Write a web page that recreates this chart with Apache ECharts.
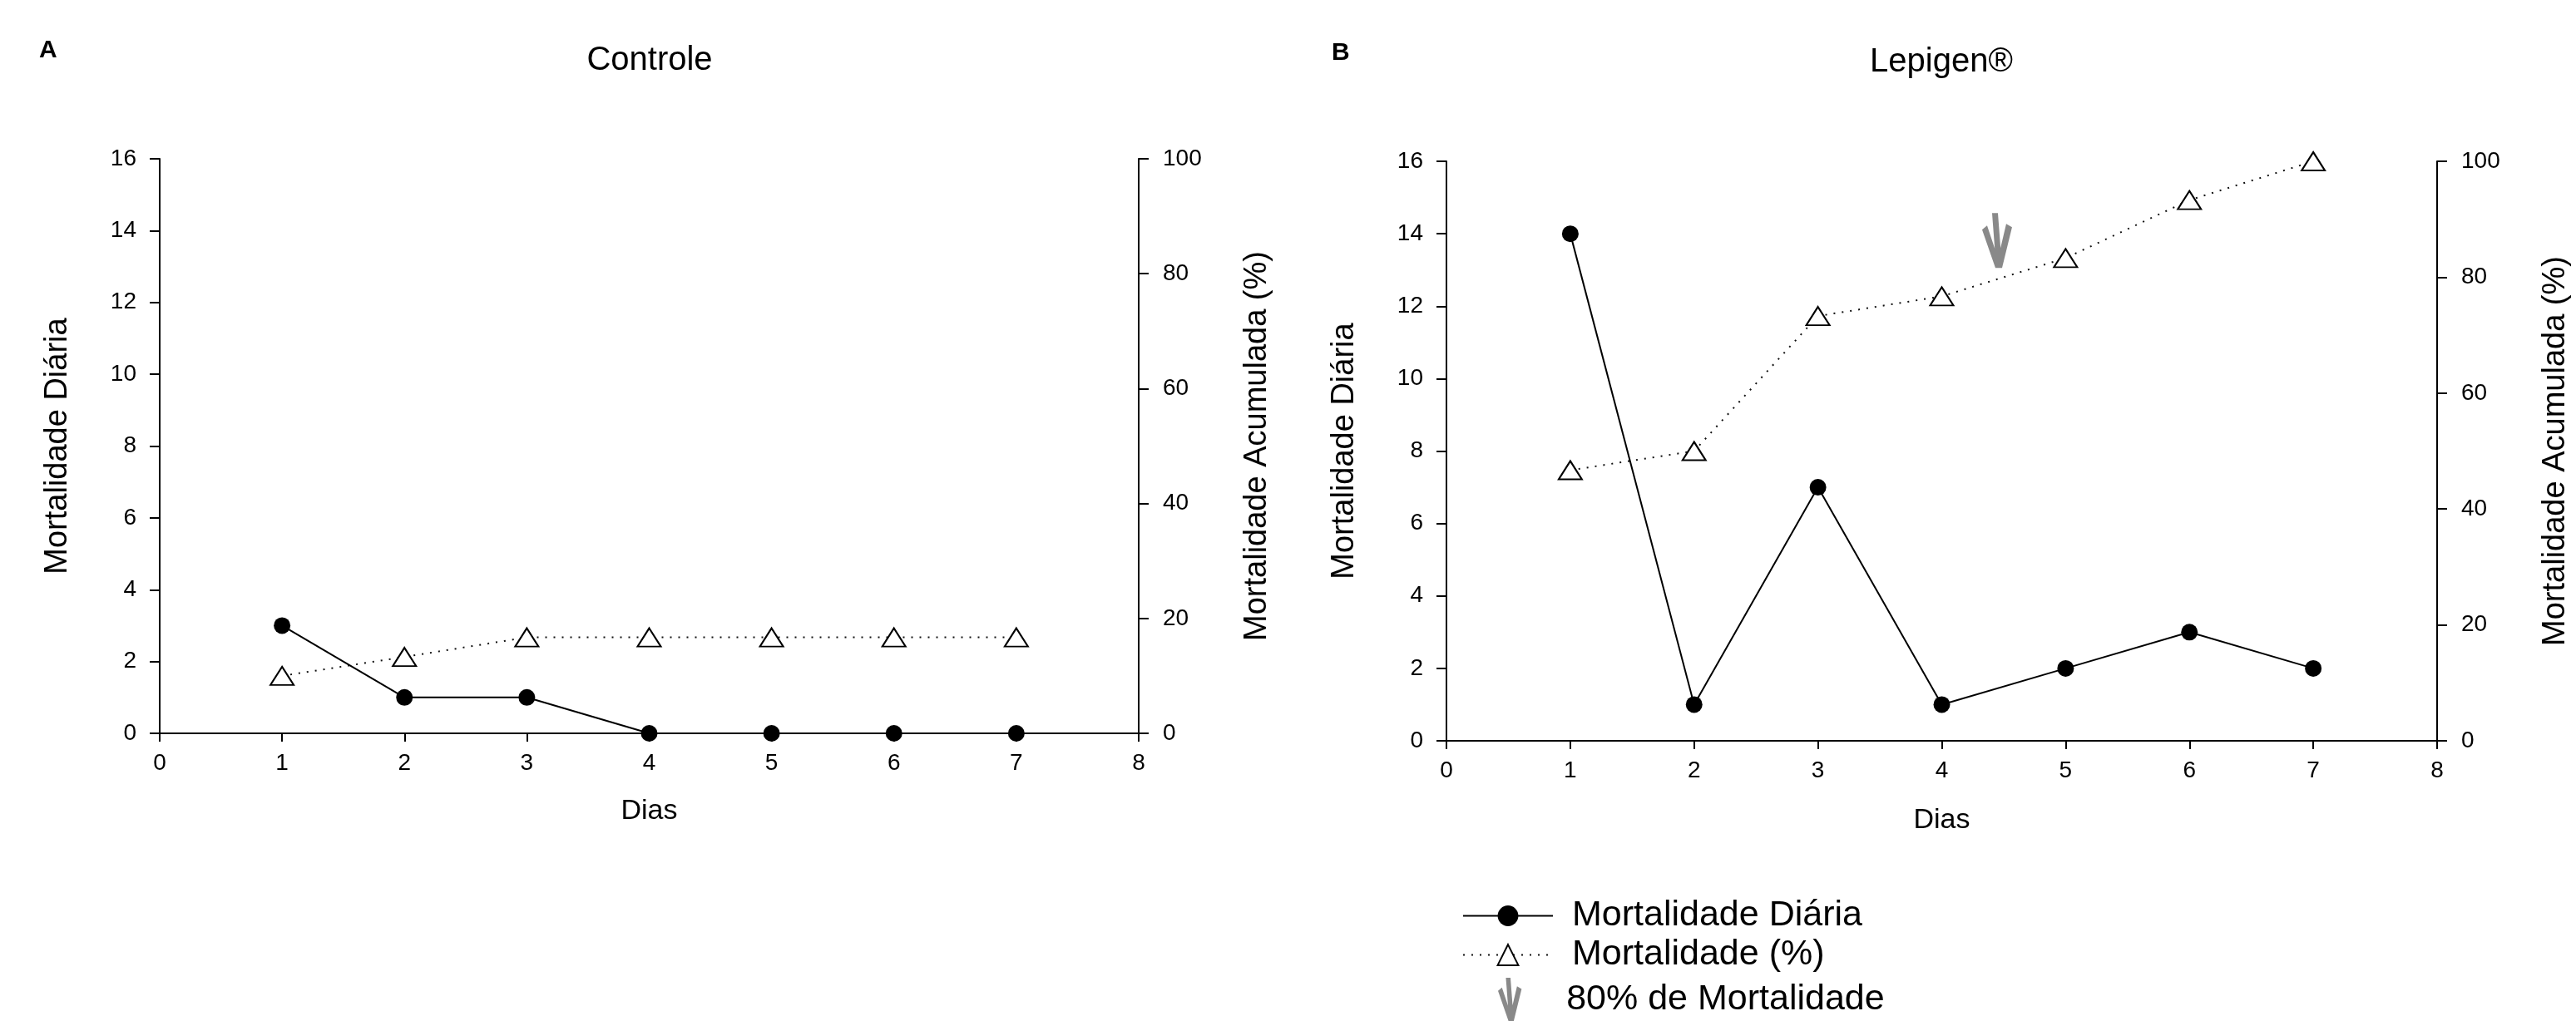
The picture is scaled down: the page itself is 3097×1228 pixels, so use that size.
<!DOCTYPE html>
<html>
<head>
<meta charset="utf-8">
<script src="https://cdn.jsdelivr.net/npm/echarts@6/dist/echarts.min.js"></script>
<style>
  html, body { margin: 0; padding: 0; background: #fff; }
  #chart { width: 3097px; height: 1228px; }
</style>
</head>
<body>
<div id="chart"></div>
<script>
// dados
const dias = [1, 2, 3, 4, 5, 6, 7];
const controleDiaria = [3, 1, 1, 0, 0, 0, 0];
const controlePct = [10, 13.3, 16.7, 16.7, 16.7, 16.7, 16.7];
const lepigenDiaria = [14, 1, 7, 1, 2, 3, 2];
const lepigenPct = [46.7, 50, 73.3, 76.7, 83.3, 93.3, 100];
const marcador80 = [[4.46, 81.6]];

const fonte = "'Liberation Sans', Arial, sans-serif";
const seta = "path://M12 0 L19 0 L24 66 L17 66 Z M0 20 L6 15 L23 66 L16 66 Z M29 13 L36 17 L24 66 L17 64 Z";

let mcharts = echarts.init(document.getElementById("chart"));

function pares(vals) {
  return dias.map((d, i) => [d, vals[i]]);
}

function eixoX(idx, gap) {
  return {
    type: "value", gridIndex: idx, min: 0, max: 8, interval: 1,
    name: "Dias", nameLocation: "middle", nameGap: gap,
    nameTextStyle: { fontSize: 34, color: "#000", fontFamily: fonte },
    axisLine: { lineStyle: { color: "#000", width: 2 } },
    axisTick: { length: 10, lineStyle: { color: "#000", width: 2 } },
    axisLabel: { fontSize: 28, color: "#000", margin: 22, fontFamily: fonte },
    splitLine: { show: false }
  };
}

function eixoY(idx, pos, max, interval, nome, gap, margin) {
  return {
    type: "value", gridIndex: idx, position: pos, min: 0, max: max, interval: interval,
    name: nome, nameLocation: "middle", nameGap: gap,
    nameTextStyle: { fontSize: 38, color: "#000", fontFamily: fonte },
    axisLine: { show: true, lineStyle: { color: "#000", width: 2 } },
    axisTick: { show: true, length: 12, lineStyle: { color: "#000", width: 2 } },
    axisLabel: { fontSize: 28, color: "#000", margin: margin, fontFamily: fonte },
    splitLine: { show: false }
  };
}

function serieDiaria(idx, vals) {
  return {
    name: "Mortalidade Diária", type: "line", xAxisIndex: idx, yAxisIndex: idx * 2,
    data: pares(vals), symbol: "circle", symbolSize: 20, clip: false, z: 3,
    lineStyle: { color: "#000", width: 2 },
    itemStyle: { color: "#000" }
  };
}

function seriePct(idx, vals) {
  return {
    name: "Mortalidade (%)", type: "line", xAxisIndex: idx, yAxisIndex: idx * 2 + 1,
    data: pares(vals), symbol: "triangle", symbolSize: [28, 22], clip: false, z: 2,
    lineStyle: { color: "#111", width: 2, type: [2, 8] },
    itemStyle: { color: "#fff", borderColor: "#000", borderWidth: 2 }
  };
}

let option = {
  backgroundColor: "#fff",
  animation: false,
  title: [
    { text: "A", left: 47, top: 46, padding: 0, textStyle: { fontSize: 30, fontWeight: "bold", color: "#000", fontFamily: fonte } },
    { text: "Controle", left: 781, top: 53, padding: 0, textAlign: "center", textStyle: { fontSize: 40, fontWeight: "normal", color: "#000", fontFamily: fonte } },
    { text: "B", left: 1601, top: 49, padding: 0, textStyle: { fontSize: 30, fontWeight: "bold", color: "#000", fontFamily: fonte } },
    { text: "Lepigen®", left: 2334, top: 55, padding: 0, textAlign: "center", textStyle: { fontSize: 40, fontWeight: "normal", color: "#000", fontFamily: fonte } }
  ],
  legend: [
    {
      data: ["Mortalidade Diária", "Mortalidade (%)"],
      orient: "vertical", left: 1758, top: 1080, padding: 0,
      itemWidth: 108, itemHeight: 31, itemGap: 4,
      selectedMode: false,
      textStyle: { fontSize: 43, color: "#000", fontFamily: fonte, padding: [0, 0, 0, 18] }
    },
    {
      data: [{ name: "80% de Mortalidade", icon: seta }],
      orient: "vertical", left: 1801, top: 1176, padding: 0,
      itemWidth: 30, itemHeight: 52,
      selectedMode: false,
      itemStyle: { color: "#6b6b6b" },
      textStyle: { fontSize: 43, color: "#000", fontFamily: fonte, padding: [0, 0, 0, 48] }
    }
  ],
  grid: [
    { left: 192, top: 191, width: 1177, height: 691 },
    { left: 1739, top: 194, width: 1191, height: 697 }
  ],
  xAxis: [eixoX(0, 77), eixoX(1, 79)],
  yAxis: [
    eixoY(0, "left", 16, 2, "Mortalidade Diária", 103, 28),
    eixoY(0, "right", 100, 20, "Mortalidade Acumulada (%)", 124, 29),
    eixoY(1, "left", 16, 2, "Mortalidade Diária", 103, 28),
    eixoY(1, "right", 100, 20, "Mortalidade Acumulada (%)", 124, 29)
  ],
  series: [
    serieDiaria(0, controleDiaria),
    seriePct(0, controlePct),
    serieDiaria(1, lepigenDiaria),
    seriePct(1, lepigenPct),
    {
      name: "80% de Mortalidade", type: "scatter", xAxisIndex: 1, yAxisIndex: 3,
      data: marcador80, symbol: seta, symbolSize: [36, 66], symbolOffset: [-2, -33],
      itemStyle: { color: "#6b6b6b" }, z: 4
    }
  ]
};

mcharts.setOption(option);
</script>
</body>
</html>
